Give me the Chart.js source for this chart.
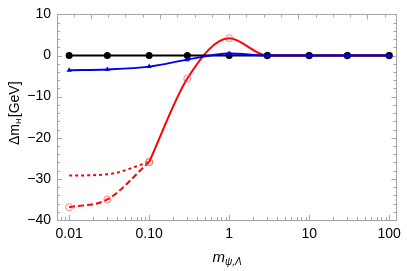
<!DOCTYPE html>
<html><head><meta charset="utf-8">
<script src="https://cdn.jsdelivr.net/npm/chart.js@4/dist/chart.umd.min.js"></script>
<style>html,body{margin:0;padding:0;background:#fff}#wrap{width:407px;height:271px;position:relative}</style>
</head><body><div id="wrap"><canvas id="c" width="407" height="271"></canvas></div>
<script>
// ---- data ----
const masses = [0.01, 0.03, 0.1, 0.3, 1, 3, 10, 30, 100];
const blackVals = [0, 0, 0, 0, 0, 0, 0, 0, 0];
const blueVals = [-3.6, -3.4, -2.7, -1.0, 0.5, 0, 0, 0, 0];
const redSolidMasses = [0.1, 0.3, 1, 3, 10, 30, 100];
const redSolidVals = [-25.9, -5.6, 4.2, 0, 0, 0, 0];
const redLowMasses = [0.01, 0.03, 0.1];
const redDashedVals = [-36.9, -35.0, -25.9];
const redDottedVals = [-29.2, -28.9, -25.9];
const xTickVals = [0.01, 0.1, 1, 10, 100];
const xTickLabels = ["0.01", "0.10", "1", "10", "100"];
const yTickVals = [-40, -30, -20, -10, 0, 10];
const yTickLabels = ["\u221240", "\u221230", "\u221220", "\u221210", "0", "10"];

const pts = (xs, ys) => xs.map((x, i) => ({x, y: ys[i]}));
const FONT = "'Liberation Sans', Arial, sans-serif";
const FRAME = '#a6a6a6';

const framePlugin = {
  id: 'frame',
  beforeDatasetsDraw(chart) {
    const {ctx, chartArea: a, scales: {x, y}} = chart;
    ctx.save();
    ctx.strokeStyle = FRAME; ctx.lineWidth = 1;
    ctx.beginPath();
    // bottom/top x ticks
    for (let d = -3; d <= 2; d++) {
      for (let m = 1; m <= 9; m++) {
        const v = m * Math.pow(10, d);
        const px = x.getPixelForValue(v);
        if (px < a.left || px > a.right) continue;
        const L = m === 1 ? 5 : 3;
        ctx.moveTo(Math.round(px) + 0.5, a.bottom); ctx.lineTo(Math.round(px) + 0.5, a.bottom - L);
      }
    }
    // top ticks: uniform in log space
    for (let k = -12; k <= 12; k++) {
      const v = Math.pow(10, k * 0.216);
      const px = x.getPixelForValue(v);
      if (px < a.left || px > a.right) continue;
      const L = (k % 4 === 0) ? 5 : 3;
      ctx.moveTo(Math.round(px) + 0.5, a.top); ctx.lineTo(Math.round(px) + 0.5, a.top + L);
    }
    // y ticks left/right
    for (let v = -40; v <= 10; v += 2) {
      const py = Math.round(y.getPixelForValue(v)) + 0.5;
      const L = v % 10 === 0 ? 5 : 3;
      ctx.moveTo(a.left, py); ctx.lineTo(a.left + L, py);
      ctx.moveTo(a.right, py); ctx.lineTo(a.right - L, py);
    }
    ctx.stroke();
    ctx.strokeRect(Math.round(a.left) + 0.5, Math.round(a.top) + 0.5, Math.round(a.right - a.left), Math.round(a.bottom - a.top));
    ctx.restore();
  },
  afterDraw(chart) {
    const {ctx, chartArea: a} = chart;
    ctx.save();
    ctx.fillStyle = '#000';
    // y title
    ctx.translate(19, (a.top + a.bottom) / 2 - 4);
    ctx.rotate(-Math.PI / 2);
    ctx.textBaseline = 'alphabetic';
    const f1 = '14px ' + FONT, f2 = '8px ' + FONT;
    ctx.font = f1; const w1 = ctx.measureText('\u0394m').width;
    ctx.font = f2; const w2 = ctx.measureText('H').width;
    ctx.font = f1; const w3 = ctx.measureText('[GeV]').width;
    const tot = w1 + w2 + 1 + w3;
    let sx = -tot / 2;
    ctx.font = f1; ctx.fillText('\u0394m', sx, 0); sx += w1;
    ctx.font = f2; ctx.fillText('H', sx, 2); sx += w2 + 1;
    ctx.font = f1; ctx.fillText('[GeV]', sx, 0);
    ctx.restore();
    // x title
    ctx.save();
    ctx.fillStyle = '#000';
    const g1 = 'italic 15px ' + FONT, g2 = 'italic 10px ' + FONT;
    ctx.font = g1; const m1 = ctx.measureText('m').width;
    ctx.font = g2; const m2 = ctx.measureText('\u03c8,\u039b').width;
    let tx = 227 - (m1 + m2) / 2;
    ctx.font = g1; ctx.fillText('m', tx, 262); tx += m1;
    ctx.font = g2; ctx.fillText('\u03c8,\u039b', tx, 265);
    ctx.restore();
  }
};

const common = {fill: false, cubicInterpolationMode: 'monotone', borderWidth: 2};

new Chart(document.getElementById('c'), {
  type: 'line',
  data: {
    datasets: [
      Object.assign({label: 'black', data: pts(masses, blackVals), borderColor: '#000', backgroundColor: '#000',
        pointRadius: 3.5, pointStyle: 'circle', pointBorderWidth: 0, order: 2}, common),
      Object.assign({label: 'blue', data: pts(masses, blueVals), borderColor: '#0000ee', backgroundColor: '#0000ee',
        pointRadius: 3, pointStyle: 'triangle', pointBorderWidth: 0, order: 1}, common),
      Object.assign({label: 'red', data: pts(redSolidMasses, redSolidVals), borderColor: '#ff0000', backgroundColor: 'rgba(0,0,0,0)',
        pointRadius: 3.5, pointBorderColor: 'rgba(255,80,80,0.7)', pointBorderWidth: 1, order: 3}, common),
      Object.assign({label: 'red dashed', data: pts(redLowMasses, redDashedVals), borderColor: '#ff0000', backgroundColor: 'rgba(0,0,0,0)',
        borderDash: [6, 3], pointRadius: 3.5, pointBorderColor: 'rgba(255,80,80,0.7)', pointBorderWidth: 1, order: 4}, common),
      Object.assign({label: 'red dotted', data: pts(redLowMasses, redDottedVals), borderColor: '#ff0000',
        borderDash: [3, 3], pointRadius: 0, order: 5}, common)
    ]
  },
  options: {
    responsive: false, animation: false, devicePixelRatio: 1,
    layout: {padding: {top: 8, right: 6, left: 0, bottom: 0}},
    plugins: {legend: {display: false}, tooltip: {enabled: false}},
    scales: {
      x: {
        type: 'logarithmic', min: 0.00705, max: 123,
        grid: {display: false, drawTicks: false}, border: {display: false},
        afterBuildTicks: s => { s.ticks = xTickVals.map(v => ({value: v})); },
        afterFit: s => { s.height = 51; },
        ticks: {autoSkip: false, maxRotation: 0, padding: 6, color: '#000', font: {family: FONT, size: 14},
          callback: (v) => { const i = xTickVals.indexOf(v); return i >= 0 ? xTickLabels[i] : ''; }}
      },
      y: {
        type: 'linear', min: -40, max: 10,
        grid: {display: false, drawTicks: false}, border: {display: false},
        afterBuildTicks: s => { s.ticks = yTickVals.map(v => ({value: v})); },
        afterFit: s => { s.width = 57; },
        ticks: {padding: 6, color: '#000', font: {family: FONT, size: 14},
          callback: (v) => { const i = yTickVals.indexOf(v); return i >= 0 ? yTickLabels[i] : ''; }}
      }
    }
  },
  plugins: [framePlugin]
});
</script></body></html>
